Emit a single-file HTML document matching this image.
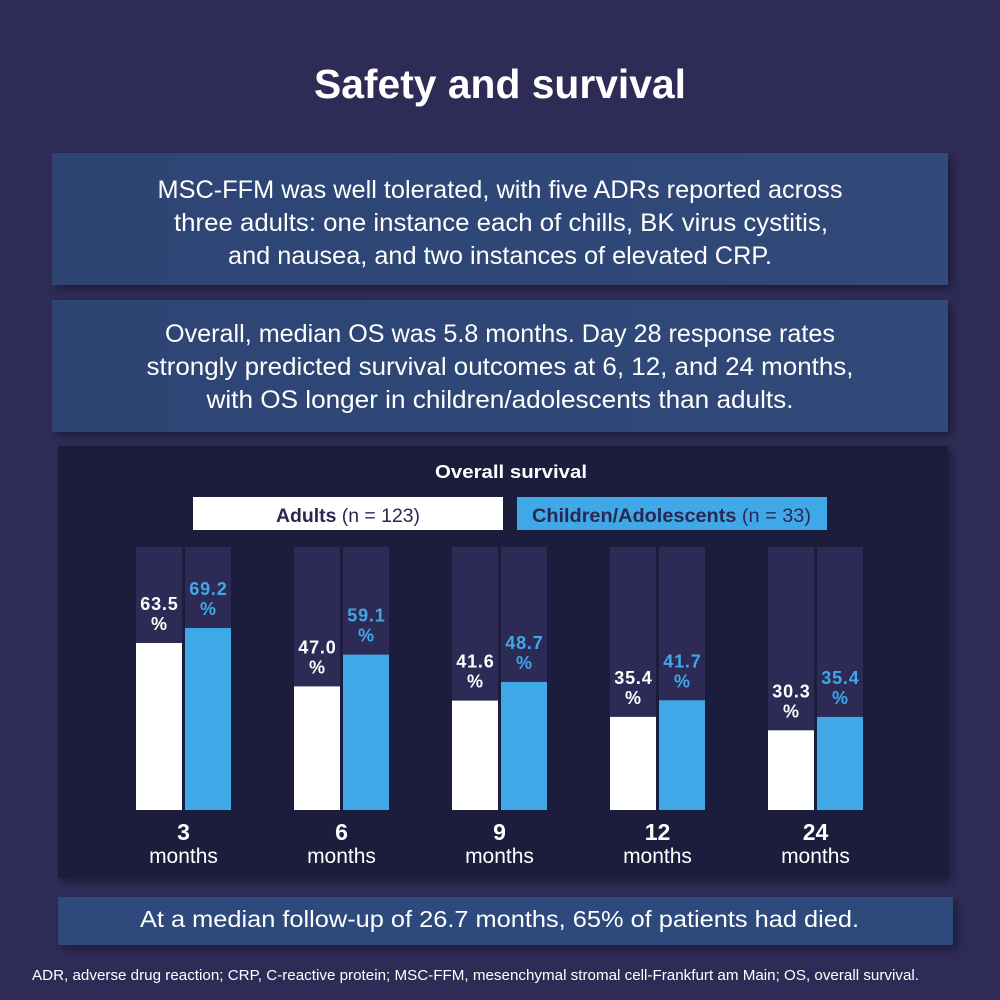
<!DOCTYPE html>
<html>
<head>
<meta charset="utf-8">
<style>
  html,body{margin:0;padding:0;background:#2e2b56;}
  svg{display:block;}
  text{font-family:"Liberation Sans", sans-serif;}
</style>
</head>
<body>
<svg width="1000" height="1000" viewBox="0 0 1000 1000" xmlns="http://www.w3.org/2000/svg">
  <defs>
    <linearGradient id="boxg" x1="0" y1="0" x2="1" y2="0">
      <stop offset="0" stop-color="#2e4473"/>
      <stop offset="1" stop-color="#30497a"/>
    </linearGradient>
    <filter id="sh" x="-5%" y="-10%" width="115%" height="130%">
      <feGaussianBlur in="SourceAlpha" stdDeviation="4"/>
      <feOffset dx="4" dy="4" result="b"/>
      <feComponentTransfer><feFuncA type="linear" slope="0.35"/></feComponentTransfer>
      <feMerge><feMergeNode/><feMergeNode in="SourceGraphic"/></feMerge>
    </filter>
  </defs>
  <rect x="0" y="0" width="1000" height="1000" fill="#2e2b56"/>

  <!-- Title -->
  <text x="500" y="98" text-anchor="middle" font-size="41" font-weight="bold" fill="#ffffff" textLength="372" lengthAdjust="spacingAndGlyphs">Safety and survival</text>

  <!-- Box 1 -->
  <rect x="52" y="153" width="896" height="132" fill="url(#boxg)" filter="url(#sh)"/>
  <g fill="#ffffff" font-size="25" text-anchor="middle">
    <text x="500" y="198" textLength="685" lengthAdjust="spacingAndGlyphs">MSC-FFM was well tolerated, with five ADRs reported across</text>
    <text x="501" y="231" textLength="654" lengthAdjust="spacingAndGlyphs">three adults: one instance each of chills, BK virus cystitis,</text>
    <text x="500" y="264" textLength="544" lengthAdjust="spacingAndGlyphs">and nausea, and two instances of elevated CRP.</text>
  </g>

  <!-- Box 2 -->
  <rect x="52" y="300" width="896" height="132" fill="url(#boxg)" filter="url(#sh)"/>
  <g fill="#ffffff" font-size="25" text-anchor="middle">
    <text x="500" y="342" textLength="670" lengthAdjust="spacingAndGlyphs">Overall, median OS was 5.8 months. Day 28 response rates</text>
    <text x="500" y="375" textLength="707" lengthAdjust="spacingAndGlyphs">strongly predicted survival outcomes at 6, 12, and 24 months,</text>
    <text x="500" y="408" textLength="587" lengthAdjust="spacingAndGlyphs">with OS longer in children/adolescents than adults.</text>
  </g>

  <!-- Chart panel -->
  <rect x="58" y="446" width="890" height="432" fill="#1d1b3c" filter="url(#sh)"/>
  <text x="511" y="478" text-anchor="middle" font-size="18" font-weight="bold" fill="#ffffff" textLength="152" lengthAdjust="spacingAndGlyphs">Overall survival</text>

  <!-- Legend -->
  <rect x="193" y="497" width="310" height="33" fill="#ffffff"/>
  <text x="276" y="522" font-size="19" fill="#2a2852" textLength="144" lengthAdjust="spacingAndGlyphs"><tspan font-weight="bold">Adults</tspan> (n = 123)</text>
  <rect x="517" y="497" width="310" height="33" fill="#3fa9e8"/>
  <text x="532" y="522" font-size="19" fill="#2a2852" textLength="279" lengthAdjust="spacingAndGlyphs"><tspan font-weight="bold">Children/Adolescents</tspan> (n = 33)</text>

  <!-- Tracks -->
  <g fill="#2d2a56">
    <rect x="136" y="547" width="46" height="263"/><rect x="185" y="547" width="46" height="263"/>
    <rect x="294" y="547" width="46" height="263"/><rect x="343" y="547" width="46" height="263"/>
    <rect x="452" y="547" width="46" height="263"/><rect x="501" y="547" width="46" height="263"/>
    <rect x="610" y="547" width="46" height="263"/><rect x="659" y="547" width="46" height="263"/>
    <rect x="768" y="547" width="46" height="263"/><rect x="817" y="547" width="46" height="263"/>
  </g>

  <!-- Adult bars -->
  <g fill="#ffffff">
    <rect x="136" y="643" width="46" height="167"/>
    <rect x="294" y="686.4" width="46" height="123.6"/>
    <rect x="452" y="700.6" width="46" height="109.4"/>
    <rect x="610" y="716.9" width="46" height="93.1"/>
    <rect x="768" y="730.3" width="46" height="79.7"/>
  </g>
  <!-- Children bars -->
  <g fill="#3fa9e8">
    <rect x="185" y="628" width="46" height="182"/>
    <rect x="343" y="654.6" width="46" height="155.4"/>
    <rect x="501" y="681.9" width="46" height="128.1"/>
    <rect x="659" y="700.3" width="46" height="109.7"/>
    <rect x="817" y="716.9" width="46" height="93.1"/>
  </g>

  <!-- Adult labels -->
  <g fill="#ffffff" font-size="18" font-weight="bold" text-anchor="middle" letter-spacing="0.8">
    <text x="159.4" y="610">63.5</text><text x="159" y="630" letter-spacing="0">%</text>
    <text x="317.4" y="653.4">47.0</text><text x="317" y="673.4" letter-spacing="0">%</text>
    <text x="475.4" y="667.6">41.6</text><text x="475" y="687.6" letter-spacing="0">%</text>
    <text x="633.4" y="683.9">35.4</text><text x="633" y="703.9" letter-spacing="0">%</text>
    <text x="791.4" y="697.3">30.3</text><text x="791" y="717.3" letter-spacing="0">%</text>
  </g>
  <!-- Children labels -->
  <g fill="#3fa9e8" font-size="18" font-weight="bold" text-anchor="middle" letter-spacing="0.8">
    <text x="208.4" y="595">69.2</text><text x="208" y="615" letter-spacing="0">%</text>
    <text x="366.4" y="621.6">59.1</text><text x="366" y="641.6" letter-spacing="0">%</text>
    <text x="524.4" y="648.9">48.7</text><text x="524" y="668.9" letter-spacing="0">%</text>
    <text x="682.4" y="667.3">41.7</text><text x="682" y="687.3" letter-spacing="0">%</text>
    <text x="840.4" y="683.9">35.4</text><text x="840" y="703.9" letter-spacing="0">%</text>
  </g>

  <!-- Month labels -->
  <g fill="#ffffff" text-anchor="middle">
    <g font-size="23" font-weight="bold">
      <text x="183.5" y="840">3</text>
      <text x="341.5" y="840">6</text>
      <text x="499.5" y="840">9</text>
      <text x="657.5" y="840">12</text>
      <text x="815.5" y="840">24</text>
    </g>
    <g font-size="21">
      <text x="183.5" y="863">months</text>
      <text x="341.5" y="863">months</text>
      <text x="499.5" y="863">months</text>
      <text x="657.5" y="863">months</text>
      <text x="815.5" y="863">months</text>
    </g>
  </g>

  <!-- Bottom box -->
  <rect x="58" y="897" width="895" height="48" fill="#2f4a7b" filter="url(#sh)"/>
  <text x="499.5" y="927" text-anchor="middle" font-size="23" fill="#ffffff" textLength="719" lengthAdjust="spacingAndGlyphs">At a median follow-up of 26.7 months, 65% of patients had died.</text>

  <!-- Footnote -->
  <text x="32" y="980" font-size="15" fill="#ffffff" textLength="887" lengthAdjust="spacingAndGlyphs">ADR, adverse drug reaction; CRP, C-reactive protein; MSC-FFM, mesenchymal stromal cell-Frankfurt am Main; OS, overall survival.</text>
</svg>
</body>
</html>
